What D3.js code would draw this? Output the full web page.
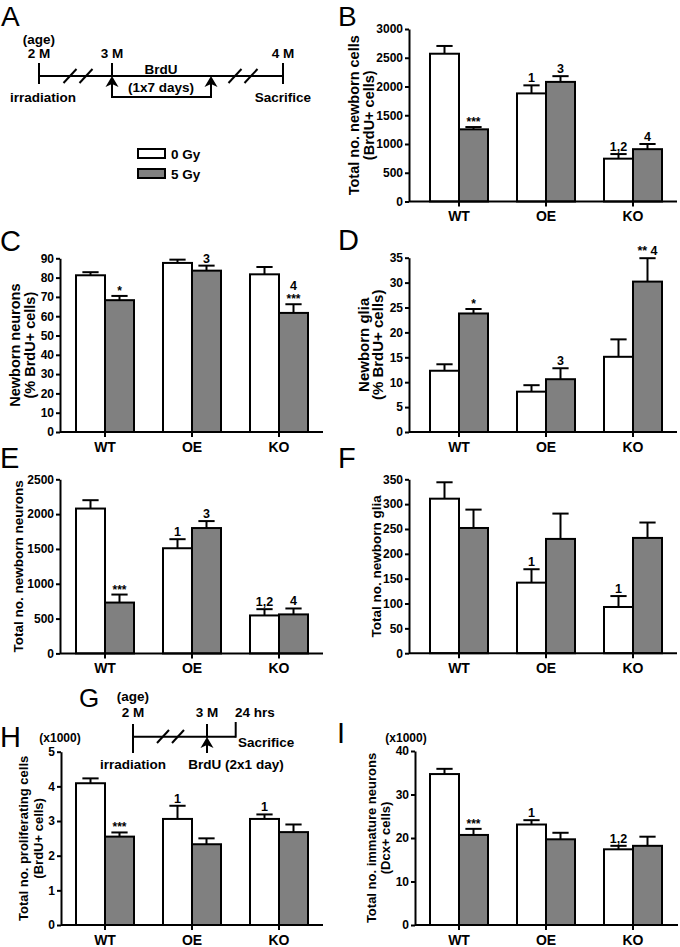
<!DOCTYPE html>
<html><head><meta charset="utf-8">
<script src="https://cdn.jsdelivr.net/npm/d3@7"></script>
<style>
body{margin:0;background:#fff}
svg{display:block}
text{font-family:"Liberation Sans",Arial,Helvetica,sans-serif}
</style>
</head><body><svg id="fig" width="680" height="947"></svg>
<script>
// ---------- data ----------
const categories = ["WT", "OE", "KO"];
const doses = ["0 Gy", "5 Gy"];
const doseFills = ["#ffffff", "#808080"];

// [category][dose]
const bMeans = [[2570, 1255], [1880, 2080], [745, 910]];
const bErrs  = [[135, 40], [140, 100], [80, 90]];
const bNotes = [["", "***"], ["1", "3"], ["1,2", "4"]];
const bTicks = [0, 500, 1000, 1500, 2000, 2500, 3000];

const cMeans = [[81.2, 68.3], [87.6, 83.6], [81.7, 61.7]];
const cErrs  = [[1.6, 2.2], [1.7, 2.6], [3.8, 4.5]];
const cNotes = [["", "*"], ["", "3"], ["", "4\n***"]];
const cTicks = [0, 10, 20, 30, 40, 50, 60, 70, 80, 90];

const dMeans = [[12.3, 23.8], [8.1, 10.6], [15.1, 30.2]];
const dErrs  = [[1.3, 0.9], [1.3, 2.2], [3.5, 4.7]];
const dNotes = [["", "*"], ["", "3"], ["", "** 4"]];
const dTicks = [0, 5, 10, 15, 20, 25, 30, 35];

const eMeans = [[2080, 730], [1510, 1800], [545, 560]];
const eErrs  = [[120, 115], [130, 100], [90, 85]];
const eNotes = [["", "***"], ["1", "3"], ["1,2", "4"]];
const eTicks = [0, 500, 1000, 1500, 2000, 2500];

const fMeans = [[311, 252], [142, 230], [93, 232]];
const fErrs  = [[33, 37], [27, 51], [22, 31]];
const fNotes = [["", ""], ["1", ""], ["1", ""]];
const fTicks = [0, 50, 100, 150, 200, 250, 300, 350];

const hMeans = [[4.09, 2.55], [3.06, 2.33], [3.06, 2.68]];
const hErrs  = [[0.14, 0.12], [0.38, 0.17], [0.13, 0.22]];
const hNotes = [["", "***"], ["1", ""], ["1", ""]];
const hTicks = [0, 1, 2, 3, 4, 5];

const iMeans = [[34.7, 20.7], [23.1, 19.7], [17.4, 18.2]];
const iErrs  = [[1.2, 1.4], [1.0, 1.5], [0.8, 2.1]];
const iNotes = [["", "***"], ["1", ""], ["1,2", ""]];
const iTicks = [0, 10, 20, 30, 40];

const timelineA = ["2 M", "3 M", "4 M"];
const timelineG = ["2 M", "3 M", "24 hrs"];

// ---------- drawing ----------
const svg = d3.select("#fig");
const FONT = '"Liberation Sans",Arial,Helvetica,sans-serif';

function txt(g, x, y, s, size, anchor, weight) {
  return g.append("text").attr("x", x).attr("y", y).text(s)
    .attr("font-size", size).attr("font-weight", weight || "bold")
    .attr("text-anchor", anchor || "middle").attr("fill", "#000");
}
function ln(g, x1, y1, x2, y2, w) {
  return g.append("line").attr("x1", x1).attr("y1", y1).attr("x2", x2).attr("y2", y2)
    .attr("stroke", "#000").attr("stroke-width", w || 2).attr("stroke-linecap", "square");
}
function arrowUp(g, x, tipY) {
  g.append("path")
    .attr("d", `M${x},${tipY} L${x - 6.5},${tipY + 11} L${x},${tipY + 8} L${x + 6.5},${tipY + 11} Z`)
    .attr("fill", "#000");
}

function drawPanel(cfg) {
  const g = svg.append("g");
  const x = d3.scaleBand().domain(categories).range(cfg.xr).paddingInner(1 / 3).paddingOuter(1 / 6);
  const xs = d3.scaleBand().domain(doses).range([0, x.bandwidth()]);
  const y = d3.scaleLinear().domain([0, cfg.ticks[cfg.ticks.length - 1]]).range([cfg.y0, cfg.yTop]);
  const bw = xs.bandwidth();
  const capW = bw * 0.56;

  categories.forEach((c, i) => {
    doses.forEach((d, j) => {
      const m = cfg.means[i][j], e = cfg.errs[i][j];
      const bx = x(c) + xs(d), cx = bx + bw / 2;
      const top = y(m + e);
      ln(g, cx, y(m), cx, top, 2).attr("stroke-linecap", "butt");
      ln(g, cx - capW / 2, top, cx + capW / 2, top, 2).attr("stroke-linecap", "butt");
      g.append("rect").attr("x", bx).attr("y", y(m)).attr("width", bw).attr("height", y(0) - y(m))
        .attr("fill", doseFills[j]).attr("stroke", "#000").attr("stroke-width", 2);
      const note = cfg.notes[i][j];
      if (note) {
        const lines = note.split("\n").reverse();
        let by = top;
        lines.forEach((s, k) => {
          const stars = /^\*+$/.test(s);
          if (k === 0) by = top - (stars ? 1 : 3);
          else by -= 13;
          txt(g, cx, by, s, stars ? 12 : 12.5, "middle");
        });
      }
    });
  });

  // x baseline + category ticks
  ln(g, cfg.ax, cfg.y0, cfg.axEnd, cfg.y0, 2).attr("stroke-linecap", "butt");
  const xAxis = d3.axisBottom(x).tickSize(5).tickSizeOuter(0).tickPadding(5);
  const gx = g.append("g").attr("transform", `translate(0,${cfg.y0})`).call(xAxis);
  gx.select(".domain").remove();
  gx.selectAll(".tick line").attr("stroke", "#000").attr("stroke-width", 2);
  gx.selectAll(".tick text").attr("font-size", 14).attr("font-weight", "bold")
    .attr("font-family", FONT).attr("fill", "#000");

  // y axis
  const yAxis = d3.axisLeft(y).tickValues(cfg.ticks).tickSize(4).tickSizeOuter(0).tickPadding(2)
    .tickFormat(d3.format("d"));
  const gy = g.append("g").attr("transform", `translate(${cfg.ax},0)`).call(yAxis);
  gy.select(".domain").attr("stroke", "#000").attr("stroke-width", 2);
  gy.selectAll(".tick line").attr("stroke", "#000").attr("stroke-width", 2);
  gy.selectAll(".tick text").attr("font-size", cfg.tickFont || 12).attr("font-weight", "bold")
    .attr("font-family", FONT).attr("fill", "#000");

  // y label
  const cy = (cfg.y0 + cfg.yTop) / 2;
  cfg.label.forEach((s, k) => {
    g.append("text").attr("transform", `translate(${cfg.labelX[k]},${cy}) rotate(-90)`)
      .attr("text-anchor", "middle").attr("dominant-baseline", "central")
      .attr("font-size", cfg.labelFont).attr("font-weight", "bold").attr("fill", "#000").text(s);
  });
  if (cfg.scaleNote) txt(g, cfg.scaleNote[0], cfg.scaleNote[1], "(x1000)", 12, "middle");
}

const LEFT = [61.5, 322.5], RIGHT = [415.5, 676.5];

drawPanel({ xr: RIGHT, ax: 409, axEnd: 677, y0: 201.5, yTop: 29, ticks: bTicks, means: bMeans, errs: bErrs,
  notes: bNotes, label: ["Total no. newborn cells", "(BrdU+ cells)"], labelX: [354, 369], labelFont: 14.5 });
drawPanel({ xr: LEFT, ax: 60, axEnd: 323, y0: 432, yTop: 258.3, ticks: cTicks, means: cMeans, errs: cErrs,
  notes: cNotes, label: ["Newborn neurons", "(% BrdU+ cells)"], labelX: [15, 29.5], labelFont: 14.5 });
drawPanel({ xr: RIGHT, ax: 409, axEnd: 677, y0: 432, yTop: 257.7, ticks: dTicks, means: dMeans, errs: dErrs,
  notes: dNotes, label: ["Newborn glia", "(% BrdU+ cells)"], labelX: [363, 377.5], labelFont: 15 });
drawPanel({ xr: LEFT, ax: 60, axEnd: 323, y0: 653.4, yTop: 479.3, ticks: eTicks, means: eMeans, errs: eErrs,
  notes: eNotes, label: ["Total no. newborn neurons"], labelX: [18], labelFont: 13.5 });
drawPanel({ xr: RIGHT, ax: 409, axEnd: 677, y0: 653.2, yTop: 479.3, ticks: fTicks, means: fMeans, errs: fErrs,
  notes: fNotes, label: ["Total no. newborn glia"], labelX: [376], labelFont: 13.5 });
drawPanel({ xr: LEFT, ax: 61, axEnd: 323, y0: 925, yTop: 751.7, ticks: hTicks, means: hMeans, errs: hErrs,
  notes: hNotes, label: ["Total no. proliferating cells", "(BrdU+ cells)"], labelX: [23, 38], labelFont: 13,
  scaleNote: [60, 741.5] });
drawPanel({ xr: RIGHT, ax: 415, axEnd: 678, y0: 925, yTop: 751, ticks: iTicks, means: iMeans, errs: iErrs,
  notes: iNotes, label: ["Total no. immature neurons", "(Dcx+ cells)"], labelX: [371, 385.5], labelFont: 13,
  scaleNote: [406, 741.5] });

// ---------- panel A timeline ----------
const ga = svg.append("g");
ln(ga, 39, 76, 283, 76).attr("stroke-linecap", "butt");
ln(ga, 39, 64, 39, 83); ln(ga, 112, 64, 112, 76); ln(ga, 283, 64, 283, 83);
[70, 86, 235, 251].forEach(sx => ln(ga, sx - 6.5, 83, sx + 6.5, 69).attr("stroke-linecap", "butt"));
ln(ga, 112, 84, 112, 97); ln(ga, 211, 84, 211, 97); ln(ga, 112, 97, 211, 97);
arrowUp(ga, 112, 76); arrowUp(ga, 211, 76);
txt(ga, 39, 44, "(age)", 13.5);
[39, 112, 283].forEach((px, k) => txt(ga, px, 58, timelineA[k], 13.5));
txt(ga, 161, 74, "BrdU", 13.5);
txt(ga, 161, 91.5, "(1x7 days)", 13.5);
txt(ga, 43, 102, "irradiation", 13.5);
txt(ga, 283, 102, "Sacrifice", 13.5);
// legend
doses.forEach((d, j) => {
  ga.append("rect").attr("x", 138).attr("y", 149 + j * 20).attr("width", 27).attr("height", 9)
    .attr("fill", doseFills[j]).attr("stroke", "#000").attr("stroke-width", 2);
  txt(ga, 171, 158.5 + j * 20, d, 13.5, "start");
});

// ---------- panel G timeline ----------
const gg = svg.append("g");
ln(gg, 133, 736.7, 235.7, 736.7).attr("stroke-linecap", "butt");
ln(gg, 133, 725, 133, 752); ln(gg, 207, 725, 207, 736.7); ln(gg, 235.7, 723, 235.7, 736.7);
[163, 178].forEach(sx => ln(gg, sx - 6, 743, sx + 6, 730).attr("stroke-linecap", "butt"));
ln(gg, 207, 745, 207, 752);
arrowUp(gg, 207, 737);
txt(gg, 133, 701, "(age)", 13.5);
txt(gg, 133, 716.5, timelineG[0], 13.5);
txt(gg, 207, 716.5, timelineG[1], 13.5);
txt(gg, 235, 717, timelineG[2], 13.5, "start");
txt(gg, 238, 746.5, "Sacrifice", 13.5, "start");
txt(gg, 133, 769, "irradiation", 13.5);
txt(gg, 236, 769, "BrdU (2x1 day)", 13.5);

// ---------- panel letters ----------
[["A", 1, 26, 28], ["B", 338, 26, 28], ["C", 0, 251, 29], ["D", 338, 250, 29], ["E", 0, 468, 29], ["F", 338, 468, 29],
 ["G", 79, 707, 26], ["H", 0, 747, 29], ["I", 337, 743, 29]].forEach(([s, lx, ly, fs]) => {
  txt(svg, lx, ly, s, fs, "start", "normal");
});
</script>
</body></html>
